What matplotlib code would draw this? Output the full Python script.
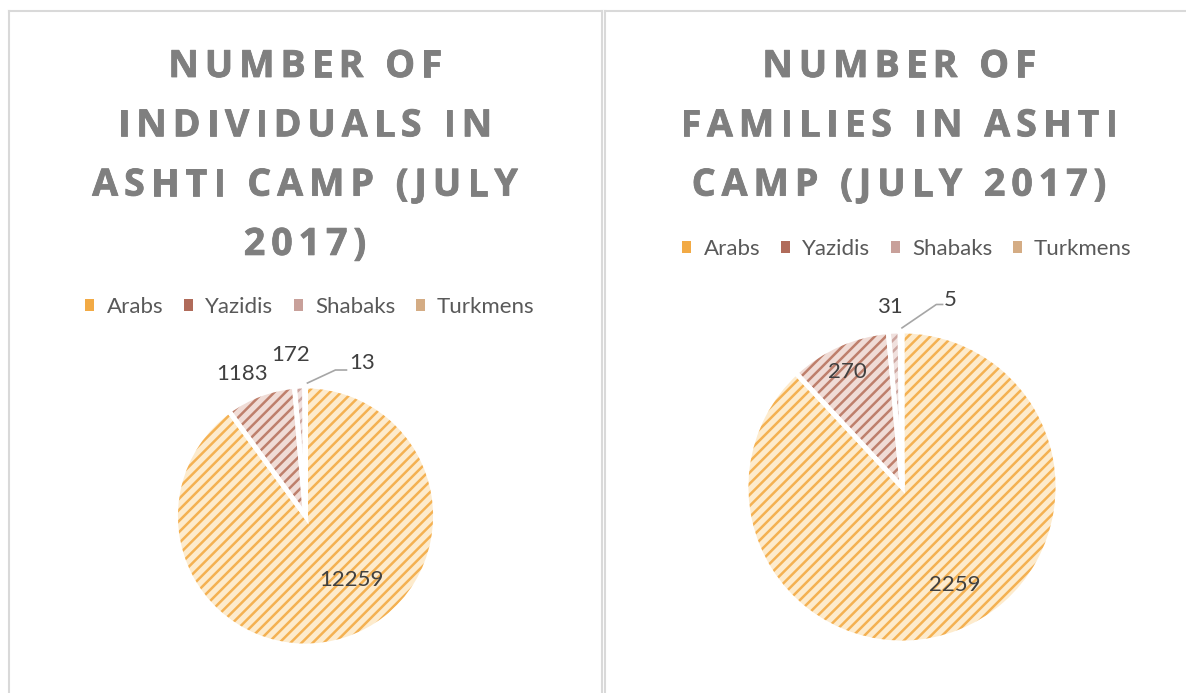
import matplotlib
matplotlib.use('Agg')
import matplotlib.pyplot as plt
import matplotlib.patheffects as pe
from matplotlib.patches import Patch
from matplotlib.lines import Line2D
from matplotlib.font_manager import FontProperties, findfont, get_font

W, H = 1186, 693

groups = ['Arabs', 'Yazidis', 'Shabaks', 'Turkmens']
individuals = [12259, 1183, 172, 13]
families = [2259, 270, 31, 5]
title_ind = ['NUMBER OF', 'INDIVIDUALS IN', 'ASHTI CAMP (JULY', '2017)']
title_fam = ['NUMBER OF', 'FAMILIES IN ASHTI', 'CAMP (JULY 2017)']

# styles
face = ['#FDEBCD', '#F0DCD6', '#F0E0DD', '#F2E2CF']
stripe = ['#F4B152', '#BE7F6C', '#CDA6A0', '#D6AC80']
legend_col = ['#F2AA45', '#B06B5A', '#C8A09A', '#D4AC84']
plt.rcParams['hatch.linewidth'] = 1.8

fig = plt.figure(figsize=(W / 100, H / 100), dpi=100)


def fx(x):
    return x / W


def fy(y):
    return 1 - y / H


# chart borders
border = '#D9D9D9'
for xs, ys in [((9, 602), (11, 11)), ((9, 9), (11, 693)), ((602, 602), (11, 693)),
               ((605, 1186), (11, 11)), ((605, 605), (11, 693))]:
    fig.add_artist(Line2D([fx(x) for x in xs], [fy(y) for y in ys], color=border, lw=1.5))

# spaced bold titles, drawn letter by letter
tsize = 27
tcolor = '#7F7F7F'
tprop = FontProperties(family='Open Sans', weight='bold', size=tsize)
tfont = get_font(findfont(tprop))
tfont.set_size(tsize, 100)
thick = [pe.withStroke(linewidth=0.6, foreground=tcolor)]


def advance(ch):
    g = tfont.load_char(ord(ch))
    return g.linearHoriAdvance / 65536


def spaced_title(lines, cx, y0, step, gap):
    for i, line in enumerate(lines):
        widths = [advance(c) for c in line]
        total = sum(widths) + gap * (len(line) - 1)
        x = cx - total / 2
        for c, w in zip(line, widths):
            fig.text(fx(x), fy(y0 + i * step), c, fontproperties=tprop,
                     color=tcolor, ha='left', va='baseline', path_effects=thick)
            x += w + gap


spaced_title(title_ind, 305, 77, 59.3, 6.0)
spaced_title(title_fam, 899, 77, 59.3, 6.0)

# legends
handles = [Patch(facecolor=c, edgecolor='none') for c in legend_col]
for cx, cy in [(310, 307), (907, 249)]:
    fig.legend(handles, groups, loc='center', bbox_to_anchor=(fx(cx), fy(cy)),
               ncol=4, frameon=False, prop=FontProperties(family='Lato', size=16),
               labelcolor='#595959', handlelength=0.4, handleheight=0.4,
               handletextpad=0.55, columnspacing=0.93, borderpad=0, borderaxespad=0)


def draw_pie(values, cx, cy, r, label_pos, leader):
    ax = fig.add_axes([fx(cx - r), fy(cy + r), 2 * r / W, 2 * r / H])
    wedges, _ = ax.pie(values, colors=face, startangle=90, counterclock=False,
                       wedgeprops=dict(linewidth=0))
    for w, c in zip(wedges, stripe):
        w.set_hatch('///')
        w.set_edgecolor(c)
    ax.pie(values, startangle=90, counterclock=False,
           wedgeprops=dict(fill=False, edgecolor='white', linewidth=3.5))
    ax.set_xlim(-1, 1)
    ax.set_ylim(-1, 1)
    ax.axis('off')
    for v, (lx, ly) in zip(values, label_pos):
        ax.text(lx, ly, str(v), ha='center', va='center', fontsize=16,
                family='Lato', color='#404040', clip_on=False)
    ax.plot([p[0] for p in leader], [p[1] for p in leader], color='#A6A6A6',
            lw=1.2, clip_on=False)
    return ax


draw_pie(individuals, 305.5, 516, 130,
         [(0.354, -0.49), (-0.49, 1.09), (-0.115, 1.24), (0.435, 1.177)],
         [(0.015, 1.023), (0.23, 1.123), (0.315, 1.123)])
draw_pie(families, 902, 487, 156,
         [(0.34, -0.63), (-0.35, 0.74), (-0.077, 1.154), (0.31, 1.2)],
         [(0.0, 1.02), (0.22, 1.17), (0.26, 1.17)])

fig.savefig('out.png', dpi=100)
